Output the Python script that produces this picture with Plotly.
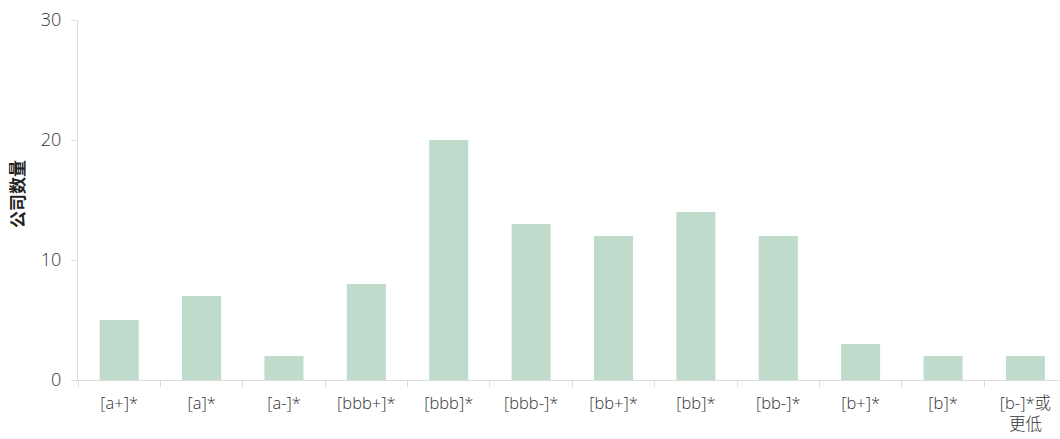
import plotly.graph_objects as go

categories = ["[a+]*", "[a]*", "[a-]*", "[bbb+]*", "[bbb]*", "[bbb-]*", "[bb+]*", "[bb]*", "[bb-]*", "[b+]*", "[b]*", "[b-]*或<br>更低"]
values = [5, 7, 2, 8, 20, 13, 12, 14, 12, 3, 2, 2]
y_title = "<b>公司数量</b>"

fig = go.Figure(go.Bar(x=categories, y=values, marker=dict(color="#bfdbcc", line=dict(width=0)), width=0.474))

font_family = "'Open Sans', 'Noto Sans CJK SC', sans-serif"
left, plot_w = 78, 982
fig.update_layout(
    width=1060, height=439,
    margin=dict(l=left, r=0, t=20, b=59),
    plot_bgcolor="white", paper_bgcolor="white",
    font=dict(family=font_family, color="#333", size=16),
    showlegend=False,
)
fig.update_xaxes(
    range=[-0.5, 11.42],
    showline=True, linecolor="#dddddd", linewidth=1,
    ticks="outside", tickson="boundaries", ticklen=6, tickcolor="#dddddd",
    showgrid=False, tickfont=dict(size=16.5, color="#333", weight=300),
    ticklabelstandoff=8,
)
fig.update_yaxes(
    range=[0, 30], tickvals=[0, 10, 20, 30],
    showline=True, linecolor="#dddddd", linewidth=1,
    ticks="outside", ticklen=6, tickcolor="#dddddd",
    showgrid=False, zeroline=False,
    tickfont=dict(size=18, color="#333", weight=300),
    ticklabelstandoff=6,
)
fig.add_annotation(
    text=y_title, textangle=-90, showarrow=False,
    xref="paper", yref="paper", x=-(left - 18) / plot_w, y=0.517,
    xanchor="center", yanchor="middle",
    font=dict(size=17, color="#222"),
)
fig.write_html("out.html")
